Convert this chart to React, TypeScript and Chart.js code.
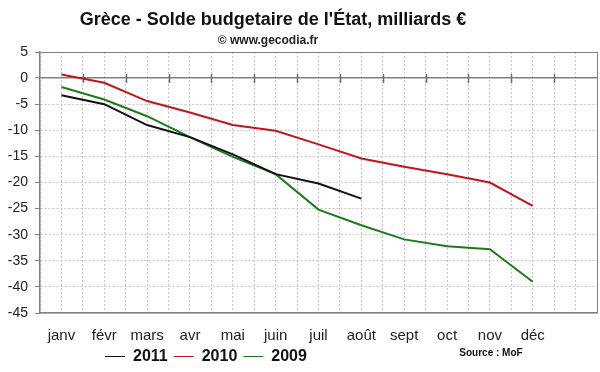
import React, { useEffect, useRef } from 'react';
import { Chart, registerables } from 'chart.js';

Chart.register(...registerables);

// ---- data ----
const monthLabels = ['janv', 'févr', 'mars', 'avr', 'mai', 'juin', 'juil', 'août', 'sept', 'oct', 'nov', 'déc'];
const values2011 = [-3.3, -5.0, -9.0, -11.3, -14.6, -18.4, -20.2, -23.1];
const values2010 = [0.7, -0.9, -4.4, -6.6, -9.0, -10.1, -12.7, -15.4, -17.0, -18.4, -20.0, -24.5];
const values2009 = [-1.7, -4.1, -7.3, -11.3, -15.1, -18.4, -25.2, -28.2, -30.9, -32.2, -32.8, -39.0];
const seriesNames = ['2011', '2010', '2009'];
const Y_MIN = -45;
const Y_MAX = 5;
const Y_STEP = 5;
const TITLE = "Grèce - Solde budgetaire de l'État, milliards €";
const SUBTITLE = '© www.gecodia.fr';
const SOURCE = 'Source : MoF';

const FONT = "'Liberation Sans', Arial, Helvetica, sans-serif";
const AXIS_COLOR = '#808080';
const GRID_COLOR = '#c4c4c4';

const toPoints = (vals: number[]) => vals.map((v, i) => ({ x: i, y: v }));

const X_MAX = monthLabels.length + 0.5;

const layoutTweaks = {
  id: 'layoutTweaks',
  afterLayout(chart: any) {
    const legend = chart.legend;
    if (legend) {
      legend.left = 99;
      legend.top = 342.5;
    }
    chart.boxes.forEach((b: any) => {
      if (b && b.options && b.options.text === TITLE) {
        b.left = 0;
        b.right = 546;
      }
      if (b && b.options && b.options.text === SUBTITLE) {
        b.left = 0;
        b.right = 536;
      }
    });
  },
  beforeDatasetsDraw(chart: any) {
    const { ctx, scales } = chart;
    const xs = scales.x;
    const ys = scales.y;
    const y0 = Math.round(ys.getPixelForValue(0));
    ctx.save();
    ctx.strokeStyle = '#6e6e6e';
    ctx.lineWidth = 1.5;
    for (let k = 0.5; k < monthLabels.length; k += 1) {
      const x = Math.round(xs.getPixelForValue(k)) + 0.5;
      ctx.beginPath();
      ctx.moveTo(x, y0 - 4);
      ctx.lineTo(x, y0 + 5);
      ctx.stroke();
    }
    ctx.restore();
  },
  afterDraw(chart: any) {
    const { ctx } = chart;
    ctx.save();
    ctx.font = `bold 10px ${FONT}`;
    ctx.fillStyle = '#111';
    ctx.textAlign = 'center';
    ctx.textBaseline = 'middle';
    ctx.fillText(SOURCE, 491, 353);
    ctx.restore();
  },
};

export default function App() {
  const canvasRef = useRef<HTMLCanvasElement | null>(null);

  useEffect(() => {
    document.body.style.margin = '0';
    const canvas = canvasRef.current;
    if (!canvas) return;
    Chart.defaults.font.family = FONT;

    const chart = new Chart(canvas, {
      type: 'line',
      data: {
        datasets: [
          { label: seriesNames[0], data: toPoints(values2011), borderColor: '#111111', backgroundColor: '#111111' },
          { label: seriesNames[1], data: toPoints(values2010), borderColor: '#c0161d', backgroundColor: '#c0161d' },
          { label: seriesNames[2], data: toPoints(values2009), borderColor: '#1d7a1d', backgroundColor: '#1d7a1d' },
        ],
      },
      options: {
        responsive: false,
        animation: false,
        events: [],
        elements: {
          line: { borderWidth: 2, tension: 0 },
          point: { radius: 0, hoverRadius: 0 },
        },
        layout: { padding: { top: 0, bottom: 0, left: 0, right: 3 } },
        plugins: {
          title: {
            display: true,
            text: TITLE,
            color: '#111',
            font: { size: 18, weight: 'bold', family: FONT },
            padding: { top: 9, bottom: 3.2 },
          },
          subtitle: {
            display: true,
            text: SUBTITLE,
            color: '#222',
            font: { size: 12, weight: 'bold', family: FONT },
            padding: { top: 0, bottom: 3.8 },
          },
          legend: {
            display: true,
            position: 'bottom',
            align: 'start',
            maxHeight: 27,
            labels: {
              usePointStyle: true,
              pointStyle: 'line',
              pointStyleWidth: 20,
              padding: 6,
              color: '#111',
              font: { size: 16, weight: 'bold', family: FONT },
            },
          },
          tooltip: { enabled: false },
        },
        scales: {
          x: {
            type: 'linear',
            min: -0.5,
            max: X_MAX,
            afterFit(scale: any) {
              scale.height = 32;
              scale.paddingLeft = 0;
              scale.paddingRight = 0;
            },
            ticks: {
              stepSize: 0.5,
              autoSkip: false,
              maxRotation: 0,
              padding: 14,
              color: '#222',
              font: { size: 15, family: FONT },
              callback: (v: any) => {
                const n = Number(v);
                return Number.isInteger(n) && monthLabels[n] ? monthLabels[n] : '';
              },
            },
            grid: {
              drawTicks: false,
              color: (c: any) => (c.tick && c.tick.value === X_MAX ? AXIS_COLOR : GRID_COLOR),
              lineWidth: 1,
            },
            border: {
              display: true,
              color: AXIS_COLOR,
              width: 1.5,
              dash: (c: any) => (c.tick && c.tick.value === X_MAX ? [] : [2, 2]),
            },
          },
          y: {
            type: 'linear',
            min: Y_MIN,
            max: Y_MAX,
            afterFit(scale: any) {
              scale.width = 40;
            },
            ticks: {
              stepSize: Y_STEP,
              padding: 7,
              color: '#222',
              font: { size: 14, family: FONT },
            },
            grid: {
              drawTicks: true,
              tickLength: 5,
              tickColor: AXIS_COLOR,
              tickWidth: 1,
              color: (c: any) =>
                c.tick && (c.tick.value === Y_MAX || c.tick.value === 0) ? AXIS_COLOR : GRID_COLOR,
              lineWidth: (c: any) => (c.tick && c.tick.value === 0 ? 1.5 : 1),
            },
            border: {
              display: true,
              color: AXIS_COLOR,
              width: 1.5,
              dash: (c: any) =>
                c.tick && (c.tick.value === Y_MAX || c.tick.value === 0) ? [] : [2, 2],
            },
          },
        },
      },
      plugins: [layoutTweaks],
    } as any);

    return () => {
      chart.destroy();
    };
  }, []);

  return (
    <div style={{ width: 600, height: 372, background: '#fff' }}>
      <canvas ref={canvasRef} width={600} height={372} style={{ display: 'block' }} />
    </div>
  );
}
